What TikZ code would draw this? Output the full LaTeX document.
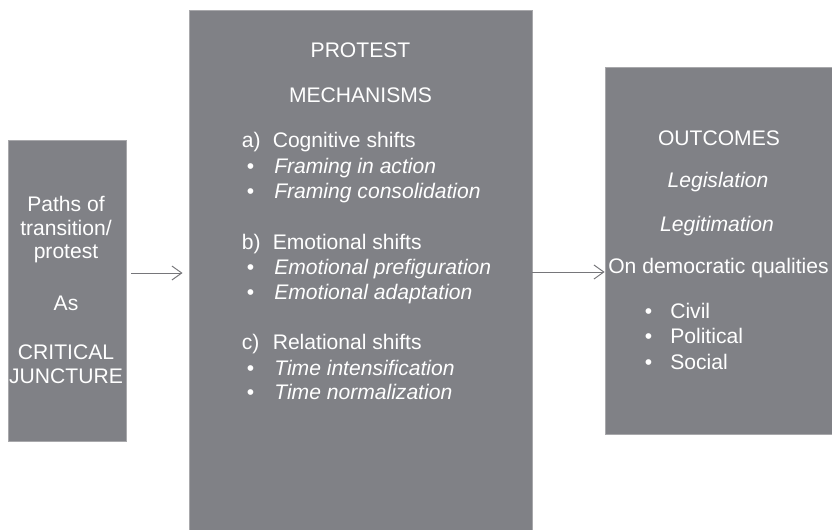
\documentclass[tikz,border=0pt]{standalone}
\usepackage{fontspec}
\setmainfont{Liberation Sans}
\usetikzlibrary{positioning}
\usetikzlibrary{arrows.meta}
\definecolor{boxgray}{RGB}{128,129,134}
\definecolor{boxedge}{RGB}{168,168,171}
\definecolor{flowgray}{RGB}{118,118,122}
\tikzset{
    boxnode/.style = {rectangle, fill=boxgray, draw=boxedge, line width=0.5pt, inner sep=0pt},
    txtnode/.style = {anchor=base, inner sep=0pt, text=white, font=\fontsize{15}{18}\selectfont},
    txtnodel/.style = {txtnode, anchor=base west},
    itnodel/.style = {txtnodel, font=\fontsize{15}{18}\selectfont\itshape},
    flowedge/.style = {-{Straight Barb[length=7pt,width=10pt]}, line width=0.7pt, flowgray}
}

\begin{document}
\begin{tikzpicture}[x=0.025cm, y=-0.025cm]
\path[use as bounding box] (0,0) rectangle (832,529);
% the three blocks
\node[boxnode, minimum width=2.95cm, minimum height=7.525cm] at (67, 290.5) (paths) {};
\node[boxnode, minimum width=8.575cm, minimum height=13.25cm] at (360.5, 275) (mech) {};
\node[boxnode, minimum width=5.875cm, minimum height=9.175cm] at (722.5, 250.5) (outc) {};
%
\node[txtnode] at (66, 211.5) (p1) {Paths of};
\node[txtnode] at (66, 235) (p2) {transition/};
\node[txtnode] at (66, 258.5) (p3) {protest};
\node[txtnode] at (66, 310) (p4) {As};
\node[txtnode] at (66, 359.5) (p5) {CRITICAL};
\node[txtnode] at (66, 383.5) (p6) {JUNCTURE};
%
\node[txtnode] at (360.5, 57.5) (m1) {PROTEST};
\node[txtnode] at (360.5, 102.5) (m2) {MECHANISMS};
\node[txtnodel] at (241.5, 147) (ma) {a)};
\node[txtnodel] at (272.5, 147) (mat) {Cognitive shifts};
\node[txtnode] at (250.5, 173) (ma1b) {\textbullet};
\node[itnodel] at (274, 173) (ma1) {Framing in action};
\node[txtnode] at (250.5, 198) (ma2b) {\textbullet};
\node[itnodel] at (274, 198) (ma2) {Framing consolidation};
\node[txtnodel] at (241.5, 249) (mb) {b)};
\node[txtnodel] at (272.5, 249) (mbt) {Emotional shifts};
\node[txtnode] at (250.5, 274) (mb1b) {\textbullet};
\node[itnodel] at (274, 274) (mb1) {Emotional prefiguration};
\node[txtnode] at (250.5, 299.5) (mb2b) {\textbullet};
\node[itnodel] at (274, 299.5) (mb2) {Emotional adaptation};
\node[txtnodel] at (241.5, 349.5) (mc) {c)};
\node[txtnodel] at (272.5, 349.5) (mct) {Relational shifts};
\node[txtnode] at (250.5, 375) (mc1b) {\textbullet};
\node[itnodel] at (274, 375) (mc1) {Time intensification};
\node[txtnode] at (250.5, 399.5) (mc2b) {\textbullet};
\node[itnodel] at (274, 399.5) (mc2) {Time normalization};
%
\node[txtnode] at (719, 145) (o1) {OUTCOMES};
\node[txtnode, font=\fontsize{15}{18}\selectfont\itshape] at (718, 187.5) (o2) {Legislation};
\node[txtnode, font=\fontsize{15}{18}\selectfont\itshape] at (717, 231) (o3) {Legitimation};
\node[txtnodel] at (608, 273.5) (o4) {On democratic qualities};
\node[txtnode] at (648.5, 318) (o5b) {\textbullet};
\node[txtnodel] at (670, 318) (o5) {Civil};
\node[txtnode] at (648.5, 343.5) (o6b) {\textbullet};
\node[txtnodel] at (670, 343.5) (o6) {Political};
\node[txtnode] at (648.5, 369) (o7b) {\textbullet};
\node[txtnodel] at (670, 369) (o7) {Social};
%
\draw[flowedge, shorten <=3.6pt, shorten >=4.3pt] (paths.east |- 0,273) -- (mech.west |- 0,273);
\draw[flowedge] (mech.east |- 0,272) -- (outc.west |- 0,272);
\end{tikzpicture}
\end{document}
